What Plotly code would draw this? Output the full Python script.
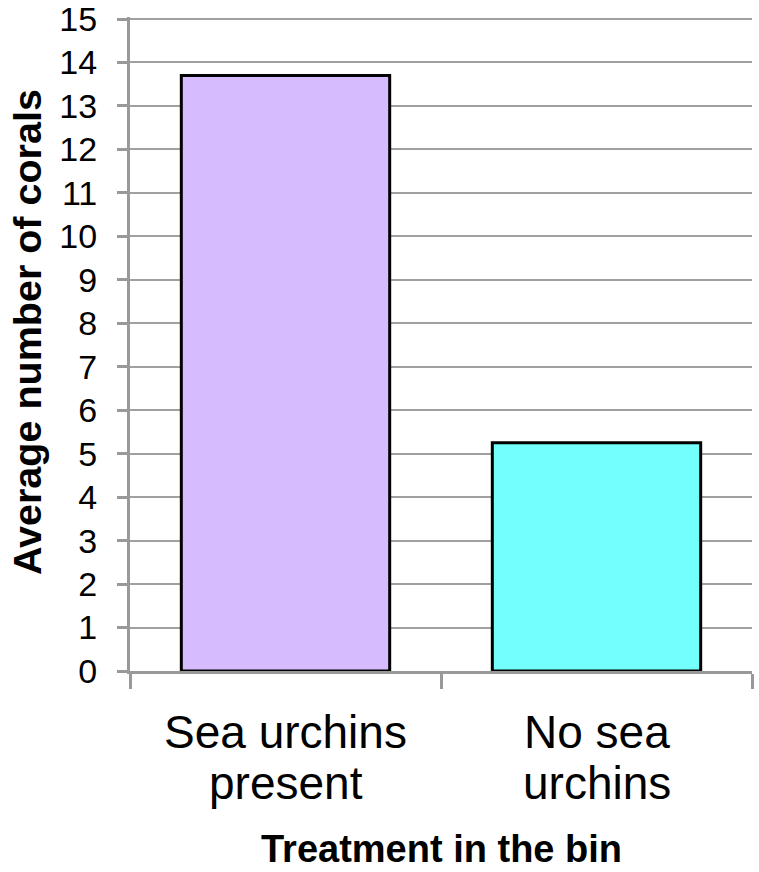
import plotly.graph_objects as go

categories = ["Sea urchins present", "No sea urchins"]
label_line1 = ["Sea urchins", "No sea"]
label_line2 = ["present", "urchins"]
values = [13.7, 5.25]
colors = ["#D7BBFF", "#73FFFB"]
y_ticks = list(range(0, 16))

W, H = 759, 872
L, R, T, B = 130, 7, 17, 201
px_per_unit = (H - 19 - B) / 15.0
y_top = (H - T - B) / px_per_unit

fig = go.Figure(go.Bar(
    x=categories, y=values,
    marker=dict(color=colors, line=dict(color="black", width=3)),
    width=0.67,
))

font_family = "Liberation Sans, Arial, sans-serif"
fig.update_layout(
    width=W, height=H,
    margin=dict(l=L, r=R, t=T, b=B, autoexpand=False),
    plot_bgcolor="white", paper_bgcolor="white",
    showlegend=False,
    font=dict(family=font_family, color="black"),
)
fig.update_yaxes(
    range=[0, y_top], tickvals=y_ticks, ticktext=[str(v) for v in y_ticks],
    showgrid=True, gridcolor="#A0A0A0", gridwidth=2,
    showline=True, linecolor="#999999", linewidth=3,
    ticks="outside", ticklen=10, tickwidth=3, tickcolor="#999999",
    tickfont=dict(size=34, family=font_family, color="black"),
    ticklabelstandoff=13, ticklabeloverflow="allow",
    zeroline=False, automargin=False,
)
fig.update_xaxes(
    showticklabels=False,
    showline=True, linecolor="#999999", linewidth=3,
    ticks="outside", tickson="boundaries", ticklen=15, tickwidth=3, tickcolor="#999999",
    showgrid=False, automargin=False,
    range=[-0.5, 1.5],
)

ann = []
for c, l1, l2 in zip(categories, label_line1, label_line2):
    ann.append(dict(x=c, xref="x", y=0, yref="paper", yanchor="middle", yshift=-61,
                    text=l1, showarrow=False, font=dict(size=46, family=font_family, color="black")))
    ann.append(dict(x=c, xref="x", y=0, yref="paper", yanchor="middle", yshift=-112,
                    text=l2, showarrow=False, font=dict(size=46, family=font_family, color="black")))
ann.append(dict(x=0.5, xref="paper", y=0, yref="paper", yanchor="middle", yshift=-178,
                text="<b>Treatment in the bin</b>", showarrow=False,
                font=dict(size=38, family=font_family, color="black")))
ann.append(dict(x=(27 - L) / (W - L - R), xref="paper", xanchor="center",
                y=(671 - 332) / (H - T - B), yref="paper", yanchor="middle",
                text="<b>Average number of corals</b>", textangle=-90, showarrow=False,
                font=dict(size=39.5, family=font_family, color="black")))
fig.update_layout(annotations=ann)

fig.write_html(
    "out.html",
    config={"displayModeBar": False},
    post_script="document.body.style.margin='0';document.body.style.overflow='hidden';",
)
